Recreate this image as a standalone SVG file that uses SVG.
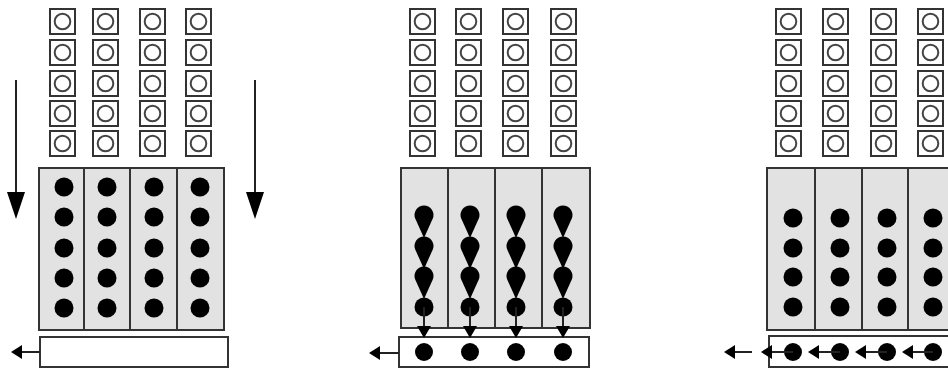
<svg xmlns="http://www.w3.org/2000/svg" width="948" height="369" viewBox="0 0 948 369">
<style>
.sq{fill:#fff;stroke:#333;stroke-width:2}
.ring{fill:none;stroke:#444;stroke-width:2}
.grey{fill:#e2e2e2;stroke:#333;stroke-width:2}
.div{stroke:#333;stroke-width:2}
.out{fill:#fff;stroke:#333;stroke-width:2}
.dot{fill:#000}
.ln{stroke:#222;stroke-width:2;fill:none}
.hd{fill:#000}
</style>
<defs>
<g id="cell"><rect class="sq" x="0" y="0" width="25" height="25"/><circle class="ring" cx="12.5" cy="12.5" r="7.8"/></g>
<g id="col"><use href="#cell" y="9"/><use href="#cell" y="40"/><use href="#cell" y="71"/><use href="#cell" y="101"/><use href="#cell" y="131"/></g>
<path id="tear" d="M-9,3 A9.5,9.5 0 1 1 9,3 L0,23 Z"/>
</defs>

<!-- Panel 1 -->
<g id="panel1">
<g id="p1-inputs"><use href="#col" x="50"/><use href="#col" x="93"/><use href="#col" x="140"/><use href="#col" x="186"/></g>
<g id="p1-array">
<rect class="grey" x="39" y="168" width="185" height="162"/>
<line class="div" x1="84" y1="168" x2="84" y2="330"/><line class="div" x1="130" y1="168" x2="130" y2="330"/><line class="div" x1="177" y1="168" x2="177" y2="330"/>
<g class="dot">
<circle cx="64" cy="187" r="9.5"/><circle cx="64" cy="217" r="9.5"/><circle cx="64" cy="248" r="9.5"/><circle cx="64" cy="278" r="9.5"/><circle cx="64" cy="308" r="9.5"/>
<circle cx="107" cy="187" r="9.5"/><circle cx="107" cy="217" r="9.5"/><circle cx="107" cy="248" r="9.5"/><circle cx="107" cy="278" r="9.5"/><circle cx="107" cy="308" r="9.5"/>
<circle cx="154" cy="187" r="9.5"/><circle cx="154" cy="217" r="9.5"/><circle cx="154" cy="248" r="9.5"/><circle cx="154" cy="278" r="9.5"/><circle cx="154" cy="308" r="9.5"/>
<circle cx="200" cy="187" r="9.5"/><circle cx="200" cy="217" r="9.5"/><circle cx="200" cy="248" r="9.5"/><circle cx="200" cy="278" r="9.5"/><circle cx="200" cy="308" r="9.5"/>
</g>
</g>
<g id="p1-output"><rect class="out" x="40" y="337" width="188" height="30"/></g>
</g>

<!-- Panel 2 -->
<g id="panel2">
<g id="p2-inputs"><use href="#col" x="410"/><use href="#col" x="456"/><use href="#col" x="503"/><use href="#col" x="551"/></g>
<g id="p2-array">
<rect class="grey" x="401" y="168" width="189" height="160"/>
<line class="div" x1="448" y1="168" x2="448" y2="328"/><line class="div" x1="495" y1="168" x2="495" y2="328"/><line class="div" x1="542" y1="168" x2="542" y2="328"/>
<g class="dot">
<use href="#tear" x="424" y="215"/><use href="#tear" x="424" y="246"/><use href="#tear" x="424" y="276"/><circle cx="424" cy="307" r="9.5"/>
<use href="#tear" x="470" y="215"/><use href="#tear" x="470" y="246"/><use href="#tear" x="470" y="276"/><circle cx="470" cy="307" r="9.5"/>
<use href="#tear" x="516" y="215"/><use href="#tear" x="516" y="246"/><use href="#tear" x="516" y="276"/><circle cx="516" cy="307" r="9.5"/>
<use href="#tear" x="563" y="215"/><use href="#tear" x="563" y="246"/><use href="#tear" x="563" y="276"/><circle cx="563" cy="307" r="9.5"/>
</g>
</g>
<g id="p2-output">
<rect class="out" x="399" y="337" width="190" height="30"/>
<g class="dot"><circle cx="424" cy="352" r="9"/><circle cx="470" cy="352" r="9"/><circle cx="516" cy="352" r="9"/><circle cx="563" cy="352" r="9"/></g>
</g>
</g>

<!-- Panel 3 -->
<g id="panel3">
<g id="p3-inputs"><use href="#col" x="776"/><use href="#col" x="823"/><use href="#col" x="871"/><use href="#col" x="918"/></g>
<g id="p3-array">
<rect class="grey" x="767" y="168" width="190" height="162"/>
<line class="div" x1="815" y1="168" x2="815" y2="330"/><line class="div" x1="862" y1="168" x2="862" y2="330"/><line class="div" x1="908" y1="168" x2="908" y2="330"/>
<g class="dot">
<circle cx="793" cy="218" r="9.5"/><circle cx="793" cy="248" r="9.5"/><circle cx="793" cy="277" r="9.5"/><circle cx="793" cy="307" r="9.5"/>
<circle cx="840" cy="218" r="9.5"/><circle cx="840" cy="248" r="9.5"/><circle cx="840" cy="277" r="9.5"/><circle cx="840" cy="307" r="9.5"/>
<circle cx="887" cy="218" r="9.5"/><circle cx="887" cy="248" r="9.5"/><circle cx="887" cy="277" r="9.5"/><circle cx="887" cy="307" r="9.5"/>
<circle cx="933" cy="218" r="9.5"/><circle cx="933" cy="248" r="9.5"/><circle cx="933" cy="277" r="9.5"/><circle cx="933" cy="307" r="9.5"/>
</g>
</g>
<g id="p3-output">
<rect class="out" x="769" y="336" width="190" height="31"/>
<g class="dot"><circle cx="793" cy="352" r="9"/><circle cx="840" cy="352" r="9"/><circle cx="887" cy="352" r="9"/><circle cx="933" cy="352" r="9"/></g>
</g>
</g>

<!-- Connectors -->
<g id="connectors">
<line class="ln" x1="16" y1="80" x2="16" y2="195"/><polygon class="hd" points="7,192 25,192 16,219"/>
<line class="ln" x1="255" y1="80" x2="255" y2="195"/><polygon class="hd" points="246,192 264,192 255,219"/>
<line class="ln" x1="40" y1="352" x2="20" y2="352"/><polygon class="hd" points="11,352 22,345 22,359"/>
<line class="ln" x1="424" y1="307" x2="424" y2="330"/><polygon class="hd" points="417,326 431,326 424,338"/>
<line class="ln" x1="470" y1="307" x2="470" y2="330"/><polygon class="hd" points="463,326 477,326 470,338"/>
<line class="ln" x1="516" y1="307" x2="516" y2="330"/><polygon class="hd" points="509,326 523,326 516,338"/>
<line class="ln" x1="563" y1="307" x2="563" y2="330"/><polygon class="hd" points="556,326 570,326 563,338"/>
<line class="ln" x1="399" y1="353" x2="378" y2="353"/><polygon class="hd" points="369,353 380,346 380,360"/>
<line class="ln" x1="793" y1="352" x2="768" y2="352"/><polygon class="hd" points="761,352 772,345 772,359"/>
<line class="ln" x1="840" y1="352" x2="815" y2="352"/><polygon class="hd" points="808,352 819,345 819,359"/>
<line class="ln" x1="887" y1="352" x2="862" y2="352"/><polygon class="hd" points="855,352 866,345 866,359"/>
<line class="ln" x1="933" y1="352" x2="909" y2="352"/><polygon class="hd" points="902,352 913,345 913,359"/>
<line class="ln" x1="752" y1="352" x2="733" y2="352"/><polygon class="hd" points="724,352 735,345 735,359"/>
</g>
</svg>
